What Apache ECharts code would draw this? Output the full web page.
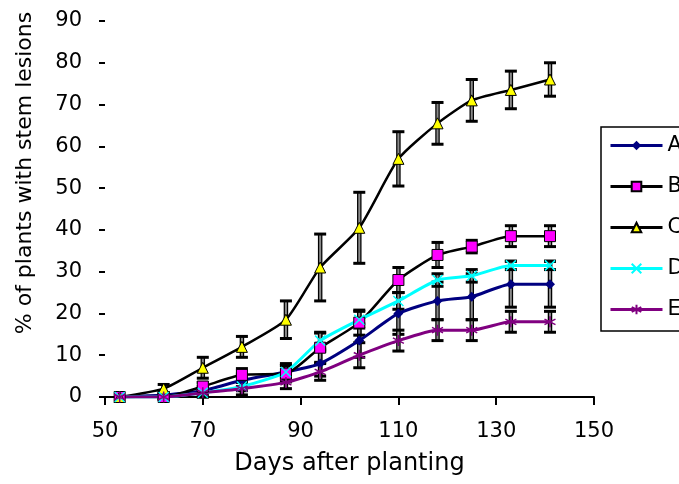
<!DOCTYPE html>
<html>
<head>
<meta charset="utf-8">
<script src="https://cdn.jsdelivr.net/npm/echarts@6/dist/echarts.min.js"></script>
<style>
  html, body { margin: 0; padding: 0; background: #fff; }
  #chart { width: 679px; height: 484px; }
</style>
</head>
<body>
<div id="chart"></div>
<script>
// days after planting (sampling dates)
const days = [53, 62, 70, 78, 87, 94, 102, 110, 118, 125, 133, 141];

// % of plants with stem lesions, per treatment
const valuesA = [0, 0.5, 1.5, 4, 6, 8, 13.5, 20, 23, 24, 27, 27];
const valuesB = [0, 0, 2.5, 5.3, 5.6, 11.8, 17.8, 28, 34, 36, 38.5, 38.5];
const valuesC = [0, 2, 7, 12, 18.5, 31, 40.5, 57, 65.5, 71, 73.5, 76];
const valuesD = [0, 0, 1, 2.5, 6, 13.5, 18.5, 23, 28, 29, 31.5, 31.5];
const valuesE = [0, 0, 1, 2, 3.5, 6, 10, 13.5, 16, 16, 18, 18];

// error bar half-widths
const errA = [0, 0.5, 1, 1.5, 2, 3, 4, 5, 4.5, 5.5, 5.5, 5.5];
const errB = [0, 0.5, 1, 1.5, 2, 3.5, 3, 3, 3, 1.5, 2.5, 2.5];
const errC = [0, 1, 2.5, 2.5, 4.5, 8, 8.5, 6.5, 5, 5, 4.5, 4];
const errD = [0, 0.5, 1, 1, 1.5, 2, 2, 2, 1.5, 1.5, 1, 1];
const errE = [0, 0.5, 1, 1.5, 1.5, 2, 3, 2.5, 2.5, 2.5, 2.5, 2.5];

const xTicks = [50, 70, 90, 110, 130, 150];

const font = "DejaVu Sans";

const toPoints = (vals) => days.map((d, i) => [d, vals[i]]);
const toErr = (vals, err) =>
  days.map((d, i) => [d, vals[i] - err[i], vals[i] + err[i]]).filter((r) => r[2] > r[1]);

// draws a vertical error bar with caps
const errRender = (params, api) => {
  const x = api.value(0);
  const top = api.coord([x, api.value(2)]);
  const bot = api.coord([x, api.value(1)]);
  const w = 6;
  return {
    type: "group",
    children: [
      { type: "line", shape: { x1: top[0], y1: top[1], x2: bot[0], y2: bot[1] }, style: { stroke: "#000", lineWidth: 4.5 } },
      { type: "line", shape: { x1: top[0], y1: top[1], x2: bot[0], y2: bot[1] }, style: { stroke: "#8a8a8a", lineWidth: 2 } },
      { type: "line", shape: { x1: top[0] - w, y1: top[1], x2: top[0] + w, y2: top[1] }, style: { stroke: "#000", lineWidth: 3 } },
      { type: "line", shape: { x1: bot[0] - w, y1: bot[1], x2: bot[0] + w, y2: bot[1] }, style: { stroke: "#000", lineWidth: 3 } },
    ],
  };
};

const errSeries = (vals, err) => ({
  type: "custom",
  renderItem: errRender,
  data: toErr(vals, err),
  z: 1,
  silent: true,
});

const crossPath = "path://M0,0L10,10M10,0L0,10";
const starPath = "path://M5,0L5,10M0.7,2.5L9.3,7.5M9.3,2.5L0.7,7.5";

const chart = echarts.init(document.getElementById("chart"));
chart.setOption({
  backgroundColor: "#fff",
  animation: false,
  grid: { left: 105, right: 85, top: 21, bottom: 87 },
  legend: {
    orient: "vertical",
    left: 601,
    top: 127,
    data: ["A", "B", "C", "D", "E"],
    itemWidth: 52,
    itemHeight: 12,
    itemGap: 20,
    padding: [8, 20, 11, 8],
    borderColor: "#000",
    borderWidth: 1.5,
    backgroundColor: "#fff",
    lineStyle: { width: 3 },
    textStyle: { fontFamily: font, fontSize: 21, color: "#000" },
  },
  xAxis: {
    type: "value",
    min: 50,
    max: 150,
    interval: 20,
    name: "Days after planting",
    nameLocation: "middle",
    nameGap: 55,
    nameTextStyle: { fontFamily: font, fontSize: 24, color: "#000" },
    axisLine: { lineStyle: { color: "#000", width: 2 } },
    axisTick: { length: 8, lineStyle: { color: "#000", width: 2 } },
    axisLabel: {
      fontFamily: font, fontSize: 21, color: "#000", margin: 24,
      formatter: (v) => (xTicks.includes(v) ? String(v) : ""),
    },
    splitLine: { show: false },
  },
  yAxis: {
    type: "value",
    min: 0,
    max: 90,
    interval: 10,
    name: "% of plants with stem lesions",
    nameLocation: "middle",
    nameGap: 69,
    nameTextStyle: { fontFamily: font, fontSize: 22, color: "#000", padding: [0, 0, 0, 72] },
    axisLine: { show: false },
    axisTick: { show: true, length: 6, lineStyle: { color: "#000", width: 2 } },
    axisLabel: { fontFamily: font, fontSize: 21, color: "#000", margin: 23 },
    splitLine: { show: false },
  },
  series: [
    errSeries(valuesA, errA),
    errSeries(valuesB, errB),
    errSeries(valuesC, errC),
    errSeries(valuesD, errD),
    errSeries(valuesE, errE),
    {
      name: "A",
      type: "line",
      smooth: 0.2,
      data: toPoints(valuesA),
      symbol: "diamond",
      symbolSize: 10,
      lineStyle: { color: "#000080", width: 3 },
      itemStyle: { color: "#000080" },
      z: 3,
    },
    {
      name: "B",
      type: "line",
      smooth: 0.2,
      data: toPoints(valuesB),
      symbol: "rect",
      symbolSize: 11,
      lineStyle: { color: "#000", width: 2.5 },
      itemStyle: { color: "#ff00ff", borderColor: "#000", borderWidth: 1 },
      z: 3,
    },
    {
      name: "C",
      type: "line",
      smooth: 0.2,
      data: toPoints(valuesC),
      symbol: "triangle",
      symbolSize: 11,
      lineStyle: { color: "#000", width: 2.5 },
      itemStyle: { color: "#ffff00", borderColor: "#000", borderWidth: 1 },
      z: 3,
    },
    {
      name: "D",
      type: "line",
      smooth: 0.2,
      data: toPoints(valuesD),
      symbol: crossPath,
      symbolSize: 10,
      lineStyle: { color: "#00ffff", width: 3 },
      itemStyle: { color: "#00ffff", borderColor: "#00ffff", borderWidth: 1.5 },
      z: 3,
    },
    {
      name: "E",
      type: "line",
      smooth: 0.2,
      data: toPoints(valuesE),
      symbol: starPath,
      symbolSize: 11,
      lineStyle: { color: "#800080", width: 3 },
      itemStyle: { color: "#800080", borderColor: "#800080", borderWidth: 1.5 },
      z: 3,
    },
  ],
});
</script>
</body>
</html>
